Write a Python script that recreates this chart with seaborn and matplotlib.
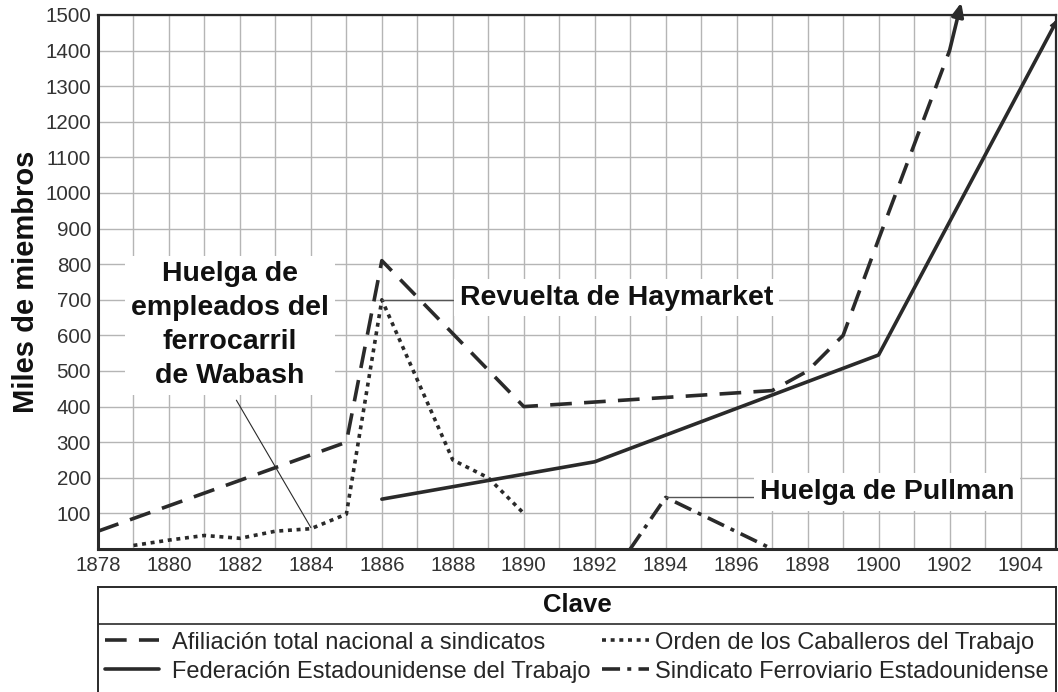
import pandas as pd
import seaborn as sns
import matplotlib.pyplot as plt
from matplotlib.lines import Line2D

# Data (thousands of members)
total_years = [1878, 1885, 1886, 1890, 1897, 1898, 1899, 1900, 1902]
total_vals = [50, 300, 810, 400, 445, 500, 600, 870, 1400]

afl_years = [1886, 1892, 1900, 1905]
afl_vals = [140, 245, 545, 1480]

knights_years = [1879, 1880, 1881, 1882, 1883, 1884, 1885, 1886, 1888, 1889, 1890]
knights_vals = [10, 25, 38, 30, 50, 57, 98, 700, 250, 200, 100]

railway_years = [1893, 1894, 1897]
railway_vals = [0, 145, 0]

labels = ["Afiliación total nacional a sindicatos",
          "Federación Estadounidense del Trabajo",
          "Orden de los Caballeros del Trabajo",
          "Sindicato Ferroviario Estadounidense"]

sns.set_style("white")
plt.rcParams['font.family'] = ['Liberation Sans', 'DejaVu Sans']

ink = "#2a2a2a"
fig = plt.figure(figsize=(10.58, 6.92), dpi=100)
ax = fig.add_axes([98 / 1058, 143 / 692, 958 / 1058, 534 / 692])

total = pd.DataFrame({"year": total_years, "value": total_vals})
afl = pd.DataFrame({"year": afl_years, "value": afl_vals})
knights = pd.DataFrame({"year": knights_years, "value": knights_vals})
railway = pd.DataFrame({"year": railway_years, "value": railway_vals})

dash = (0, (6, 3.4))
dot = (0, (1.1, 1.3))
dashdot = (0, (5, 2, 1.1, 2))

sns.lineplot(data=total, x="year", y="value", ax=ax, color=ink, lw=2.6,
             linestyle=dash, zorder=4)
sns.lineplot(data=afl, x="year", y="value", ax=ax, color=ink, lw=2.6, zorder=4)
sns.lineplot(data=knights, x="year", y="value", ax=ax, color=ink, lw=2.6,
             linestyle=dot, zorder=4)
sns.lineplot(data=railway, x="year", y="value", ax=ax, color=ink, lw=2.6,
             linestyle=dashdot, zorder=4)

# arrowheads at the ends of the rising lines
ax.annotate("", xy=(1902.33, 1535), xytext=(1902, 1400), annotation_clip=False,
            arrowprops=dict(arrowstyle="-|>,head_length=0.8,head_width=0.35",
                            color=ink, lw=2.6, shrinkA=0, shrinkB=0), zorder=5)
ax.annotate("", xy=(1905, 1485), xytext=(1904.6, 1400), annotation_clip=False,
            arrowprops=dict(arrowstyle="-|>,head_length=0.4,head_width=0.2",
                            color=ink, lw=1, shrinkA=0, shrinkB=0), zorder=5)

ax.set_xlim(1878, 1905)
ax.set_ylim(0, 1500)
ax.set_xticks(range(1878, 1905, 2))
ax.set_xticks(range(1879, 1906, 2), minor=True)
ax.set_yticks(range(100, 1501, 100))
ax.grid(True, which="both", color="#b5b5b5", lw=1, zorder=0)
ax.set_axisbelow(True)
ax.tick_params(axis="both", which="both", length=0, labelsize=14.8,
               labelcolor="#333333", pad=5)
ax.set_xlabel("")
ax.set_ylabel("Miles de miembros", fontsize=21, fontweight="bold", labelpad=4,
              color="#111111")
for s in ax.spines.values():
    s.set_color(ink)
    s.set_linewidth(1.6)
ax.spines["left"].set_linewidth(2.2)
ax.spines["bottom"].set_linewidth(2.2)

# event callouts
box = dict(facecolor="white", edgecolor="none", pad=4)
ax.text(1881.72, 628, "Huelga de\nempleados del\nferrocarril\nde Wabash",
        ha="center", va="center", fontsize=20.5, fontweight="bold",
        linespacing=1.4, bbox=box, zorder=6, color="#111111")
ax.plot([1881.9, 1884], [418, 60], color=ink, lw=0.8, zorder=5)

ax.text(1888.2, 706, "Revuelta de Haymarket", ha="left", va="center",
        fontsize=20.5, fontweight="bold", bbox=box, zorder=6, color="#111111")
ax.plot([1886, 1888], [700, 700], color="#555555", lw=1, zorder=5)

ax.text(1896.65, 160, "Huelga de Pullman", ha="left", va="center",
        fontsize=20.5, fontweight="bold", bbox=box, zorder=6, color="#111111")
ax.plot([1894, 1896.5], [146, 146], color="#555555", lw=1, zorder=5)

# key box
kax = fig.add_axes([98 / 1058, -0.01, 958 / 1058, 105 / 692 + 0.01])
kax.set_xticks([])
kax.set_yticks([])
kax.set_xlim(0, 1)
kax.set_ylim(0, 1)
for s in kax.spines.values():
    s.set_color(ink)
    s.set_linewidth(1.4)
kax.axhline(0.665, color=ink, lw=1.2)
kax.text(0.5, 0.835, "Clave", ha="center", va="center", fontsize=18.5,
         fontweight="bold", color="#111111")

h = [Line2D([], [], color=ink, lw=2.6, linestyle=ls)
     for ls in [dash, "-", dot, dashdot]]
leg_kw = dict(frameon=False, fontsize=17, labelspacing=0.3,
              borderaxespad=0.1, borderpad=0.2)
leg1 = kax.legend([h[0], h[1]], labels[:2], loc="upper left",
                  bbox_to_anchor=(0.0, 0.665), handlelength=2.3,
                  handletextpad=0.55, **leg_kw)
kax.add_artist(leg1)
kax.legend([h[2], h[3]], labels[2:], loc="upper right",
           bbox_to_anchor=(1.0, 0.665), handlelength=2.0,
           handletextpad=0.25, **leg_kw)

fig.savefig("out.png", dpi=100)
